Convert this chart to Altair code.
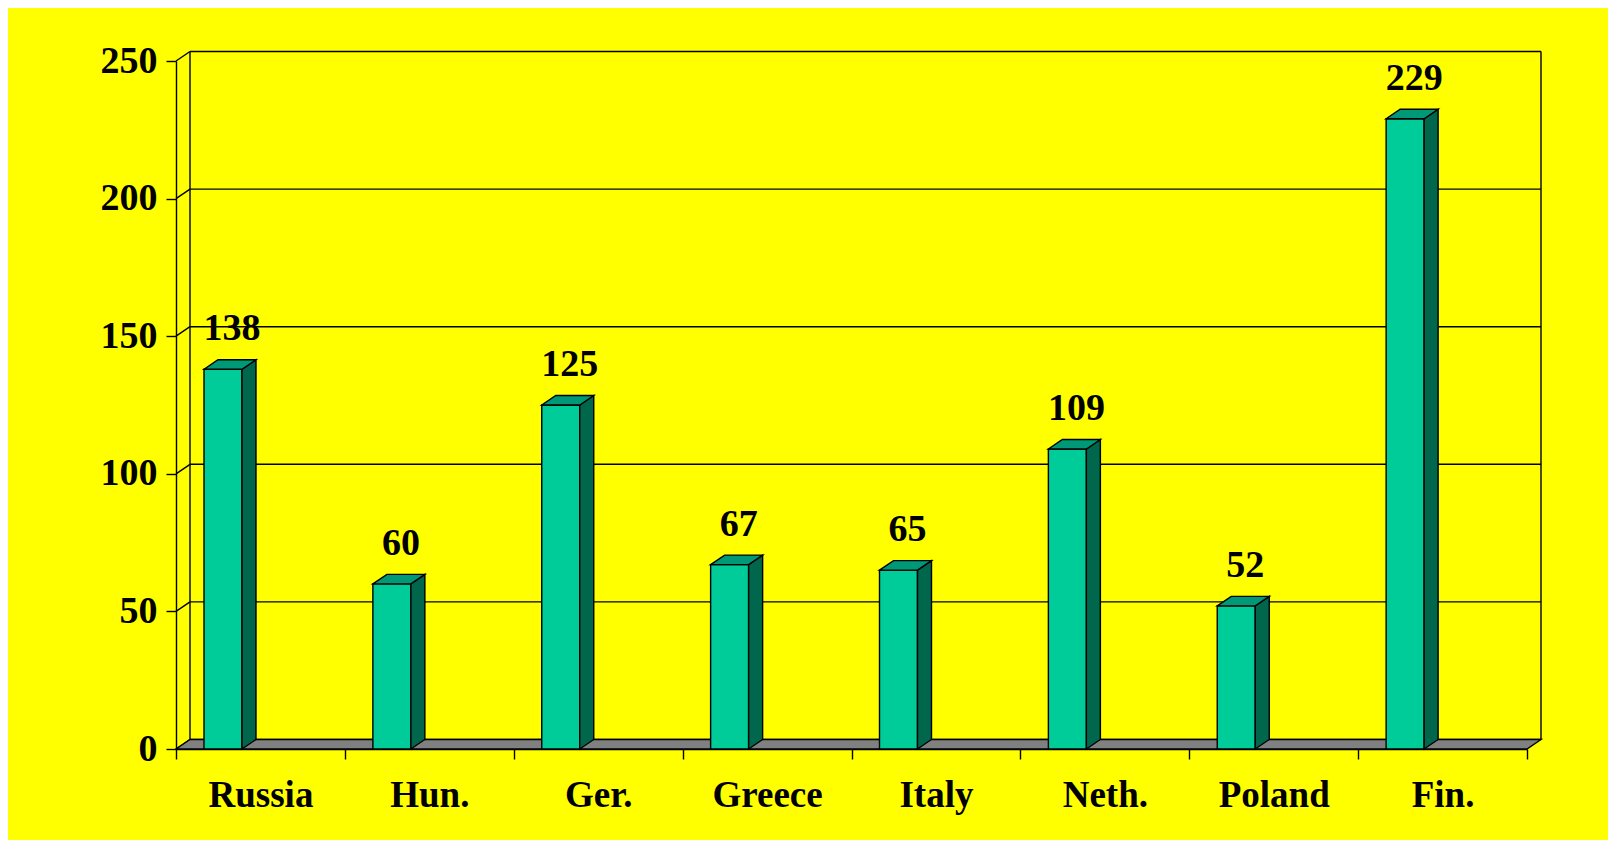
import json
import altair as alt
import pandas as pd

# ---- data ----
categories = ["Russia", "Hun.", "Ger.", "Greece", "Italy", "Neth.", "Poland", "Fin."]
values = [138, 60, 125, 67, 65, 109, 52, 229]
y_ticks = [0, 50, 100, 150, 200, 250]

# ---- layout (pixels) ----
W, H = 1351, 688
N = len(categories)
YMAX = 250
DX_PX, DY_PX = 14, 9.5          # 3-D depth offset
BAR_LEFT_PX, BAR_W_PX = 28, 38   # bar position inside its band
LABEL_PX = 56
ux = N / W
uy = YMAX / H
dxu, dyu = DX_PX * ux, DY_PX * uy

FRONT, SIDE, TOP, FLOOR = "#00CC99", "#00664C", "#009977", "#808080"
FONT = "Liberation Serif"
LW = 1.4

xs = alt.Scale(domain=[0, N], nice=False, zero=False)
ys = alt.Scale(domain=[0, YMAX], nice=False)

label_js = json.dumps(categories)
x_axis = alt.Axis(
    values=list(range(N + 1)), title=None, grid=False,
    labelExpr=f"datum.value < {N} ? {label_js}[datum.value] : ''",
    labelOffset=W / N / 2, labelFlush=False, labelOverlap=False,
    tickSize=10, tickColor="black", tickWidth=LW,
    domainColor="black", domainWidth=LW,
    labelFont=FONT, labelFontWeight="bold", labelFontSize=37,
    labelColor="black", labelPadding=18,
)
y_axis = alt.Axis(
    values=y_ticks, title=None, grid=False,
    tickSize=10, tickColor="black", tickWidth=LW,
    domainColor="black", domainWidth=LW,
    labelFont=FONT, labelFontWeight="bold", labelFontSize=38,
    labelColor="black", labelPadding=9,
)


def X(field):
    return alt.X(field, scale=xs, axis=x_axis)


def Y(field):
    return alt.Y(field, scale=ys, axis=y_axis)


bars = pd.DataFrame({"cat": categories, "value": values, "i": range(N)})
bars["x0"] = bars["i"] + BAR_LEFT_PX * ux
bars["x1"] = bars["x0"] + BAR_W_PX * ux
bars["lx"] = bars["i"] + LABEL_PX * ux
bars["zero"] = 0

side_rows, top_rows = [], []
for _, r in bars.iterrows():
    v = r["value"]
    side_rows += [
        {"bar": r["cat"], "x": r["x1"], "top": v, "bot": 0},
        {"bar": r["cat"], "x": r["x1"] + dxu, "top": v + dyu, "bot": dyu},
    ]
    top_rows += [
        {"bar": r["cat"], "x": r["x0"], "top": v, "bot": v},
        {"bar": r["cat"], "x": r["x0"] + dxu, "top": v + dyu, "bot": v},
        {"bar": r["cat"], "x": r["x1"], "top": v + dyu, "bot": v},
        {"bar": r["cat"], "x": r["x1"] + dxu, "top": v + dyu, "bot": v + dyu},
    ]
side = pd.DataFrame(side_rows)
topf = pd.DataFrame(top_rows)

floor = pd.DataFrame({
    "x": [0, dxu, N, N + dxu],
    "top": [0, dyu, dyu, dyu],
    "bot": [0, 0, 0, dyu],
})

grid = pd.DataFrame({"v": y_ticks})
grid["xa"] = dxu
grid["xb"] = N + dxu
grid["yb"] = grid["v"] + dyu
grid["x0"] = 0

walls = pd.DataFrame({"x": [dxu, N + dxu], "y": [dyu, dyu], "y2": [YMAX + dyu, YMAX + dyu]})

grid_back = alt.Chart(grid).mark_rule(color="black", strokeWidth=LW).encode(
    x=X("xa:Q"), x2="xb:Q", y=Y("yb:Q"),
)
grid_diag = alt.Chart(grid).mark_rule(color="black", strokeWidth=LW).encode(
    x=X("x0:Q"), x2="xa:Q", y=Y("v:Q"), y2="yb:Q",
)
wall_lines = alt.Chart(walls).mark_rule(color="black", strokeWidth=LW).encode(
    x=X("x:Q"), y=Y("y:Q"), y2="y2:Q",
)
floor_layer = alt.Chart(floor).mark_area(fill=FLOOR, stroke="black", strokeWidth=LW).encode(
    x=X("x:Q"), y=Y("top:Q"), y2="bot:Q",
)
front = alt.Chart(bars).mark_rect(fill=FRONT, stroke="black", strokeWidth=LW).encode(
    x=X("x0:Q"), x2="x1:Q", y=Y("value:Q"), y2="zero:Q",
)
side_layer = alt.Chart(side).mark_area(fill=SIDE, stroke="black", strokeWidth=LW).encode(
    x=X("x:Q"), y=Y("top:Q"), y2="bot:Q", detail="bar:N",
)
top_layer = alt.Chart(topf).mark_area(fill=TOP, stroke="black", strokeWidth=LW).encode(
    x=X("x:Q"), y=Y("top:Q"), y2="bot:Q", detail="bar:N",
)
labels = alt.Chart(bars).mark_text(
    font=FONT, fontWeight="bold", fontSize=38, color="black",
    baseline="middle", align="center", dy=-40,
).encode(
    x=X("lx:Q"), y=Y("value:Q"), text="value:Q",
)

chart = alt.layer(
    grid_back, grid_diag, wall_lines, floor_layer, front, side_layer, top_layer, labels
).properties(
    width=W, height=H,
    autosize=alt.AutoSizeParams(type="none"),
    padding={"left": 168, "top": 53, "right": 81, "bottom": 91},
    background="#FFFF00",
).configure_view(stroke=None)

chart.save("out.html", embed_options={"renderer": "svg", "actions": False})
